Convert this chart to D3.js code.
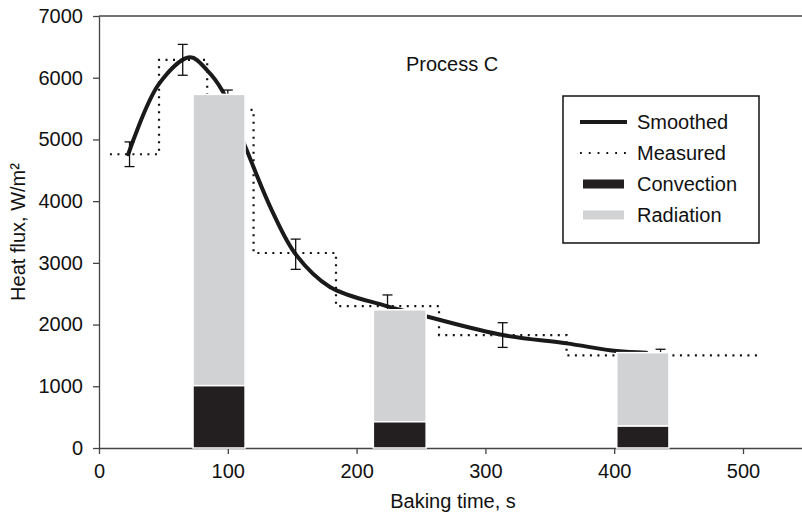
<!DOCTYPE html>
<html>
<head>
<meta charset="utf-8">
<script src="https://cdn.jsdelivr.net/npm/d3@7"></script>
<style>
  body { margin: 0; background: #fff; }
  svg text { font-family: "Liberation Sans", Arial, sans-serif; fill: #111; }
</style>
</head>
<body>
<div id="graph"></div>
<script>
// smoothed heat flux curve (time s, W/m2)
var smoothT = [22.7, 46.6, 70.7, 84, 96, 114, 134, 153, 179.3, 223.4, 254.4, 313.4, 363, 402, 425];
var smoothQ = [4760, 5900, 6330, 6120, 5780, 4860, 3860, 3130, 2610, 2300, 2130, 1830, 1695, 1570, 1545];

// measured step values: step edges and level of each step
var stepEdges = [8.5, 46.6, 84, 120, 184, 264, 363, 511];
var stepLevels = [4760, 6290, 5480, 3160, 2300, 1830, 1500];

// error bars
var errT = [23.7, 65, 100, 152.7, 224, 313.4, 436];
var errMean = [4760, 6290, 5480, 3140, 2300, 1830, 1500];
var errDev = [200, 250, 320, 245, 180, 200, 100];

// stacked bars
var barStart = [73, 213, 402];
var barEnd = [113.4, 254, 442.5];
var convection = [1010, 425, 355];
var radiation = [4720, 1815, 1190];

var xTicks = [0, 100, 200, 300, 400, 500];
var yTicks = [0, 1000, 2000, 3000, 4000, 5000, 6000, 7000];

var W = 802, H = 513;
var margin = { top: 16, left: 99 },
    plotH = 432;

var svg = d3.select("#graph").append("svg")
    .attr("width", W)
    .attr("height", H);

var x = d3.scaleLinear().domain([0, 550]).range([margin.left, margin.left + 1.288 * 550]);
var y = d3.scaleLinear().domain([0, 7000]).range([margin.top + plotH, margin.top]);

// frame: top line
svg.append("line")
    .attr("x1", x(0)).attr("x2", W)
    .attr("y1", y(7000)).attr("y2", y(7000))
    .attr("stroke", "#444").attr("stroke-width", 1.3);

// axes
var yAxis = svg.append("g")
    .attr("transform", "translate(" + x(0) + ",0)")
    .call(d3.axisLeft(y).tickValues(yTicks).tickSize(6).tickSizeOuter(0).tickPadding(10).tickFormat(d3.format("d")));
var xAxis = svg.append("g")
    .attr("transform", "translate(0," + y(0) + ")")
    .call(d3.axisBottom(x).tickValues(xTicks).tickSize(6).tickSizeOuter(0).tickPadding(10).tickFormat(d3.format("d")));

[xAxis, yAxis].forEach(function (g) {
    g.selectAll("path, line").attr("stroke", "#444").attr("stroke-width", 1.3);
    g.selectAll("text").style("font-size", "20px").attr("fill", "#111");
});

// measured (dotted steps)
var stepPts = [];
stepLevels.forEach(function (v, i) {
    stepPts.push([stepEdges[i], v]);
    stepPts.push([stepEdges[i + 1], v]);
});
svg.append("path")
    .datum(stepPts)
    .attr("fill", "none")
    .attr("stroke", "#111")
    .attr("stroke-width", 2.2)
    .attr("stroke-dasharray", "2,5.5")
    .attr("d", d3.line().x(function (d) { return x(d[0]); }).y(function (d) { return y(d[1]); }));

// smoothed curve
var smoothPts = smoothT.map(function (t, i) { return [t, smoothQ[i]]; });
svg.append("path")
    .datum(smoothPts)
    .attr("fill", "none")
    .attr("stroke", "#1a1a1a")
    .attr("stroke-width", 4)
    .attr("stroke-linecap", "round")
    .attr("d", d3.line().curve(d3.curveCatmullRom.alpha(0.5))
        .x(function (d) { return x(d[0]); }).y(function (d) { return y(d[1]); }));

// error bars
var eb = svg.append("g").attr("stroke", "#111").attr("stroke-width", 1.3);
errT.forEach(function (t, i) {
    var lo = y(errMean[i] - errDev[i]), hi = y(errMean[i] + errDev[i]), cx = x(t);
    eb.append("line").attr("x1", cx).attr("x2", cx).attr("y1", lo).attr("y2", hi);
    eb.append("line").attr("x1", cx - 5).attr("x2", cx + 5).attr("y1", lo).attr("y2", lo);
    eb.append("line").attr("x1", cx - 5).attr("x2", cx + 5).attr("y1", hi).attr("y2", hi);
});

// stacked bars
var bars = svg.append("g").attr("stroke", "#fff").attr("stroke-width", 1.5);
barStart.forEach(function (s, i) {
    var total = convection[i] + radiation[i];
    bars.append("rect")
        .attr("x", x(s)).attr("width", x(barEnd[i]) - x(s))
        .attr("y", y(total)).attr("height", y(convection[i]) - y(total))
        .attr("fill", "#d1d2d4");
    bars.append("rect")
        .attr("x", x(s)).attr("width", x(barEnd[i]) - x(s))
        .attr("y", y(convection[i])).attr("height", y(0) - y(convection[i]))
        .attr("fill", "#231f20");
});

// title inside plot
svg.append("text").attr("x", 406).attr("y", 71).text("Process C").style("font-size", "20px");

// axis titles
svg.append("text")
    .attr("x", 453).attr("y", 508)
    .attr("text-anchor", "middle")
    .style("font-size", "20px")
    .text("Baking time, s");
svg.append("text")
    .attr("transform", "translate(25," + (y(3500)) + ") rotate(-90)")
    .attr("text-anchor", "middle")
    .style("font-size", "20px")
    .text("Heat flux, W/m²");

// legend
var lg = svg.append("g");
lg.append("rect")
    .attr("x", 563).attr("y", 96).attr("width", 196).attr("height", 147)
    .attr("fill", "#fff").attr("stroke", "#111").attr("stroke-width", 1.5);
var legendNames = ["Smoothed", "Measured", "Convection", "Radiation"];
legendNames.forEach(function (name, i) {
    var ly = 122 + i * 31;
    if (i == 0) {
        lg.append("line").attr("x1", 580).attr("x2", 627).attr("y1", ly).attr("y2", ly)
            .attr("stroke", "#1a1a1a").attr("stroke-width", 4);
    } else if (i == 1) {
        lg.append("line").attr("x1", 580).attr("x2", 627).attr("y1", ly).attr("y2", ly)
            .attr("stroke", "#111").attr("stroke-width", 1.8).attr("stroke-dasharray", "1.8,7");
    } else {
        lg.append("rect").attr("x", 583).attr("y", ly - 4.5).attr("width", 41).attr("height", 9)
            .attr("fill", i == 2 ? "#231f20" : "#d1d2d4");
    }
    lg.append("text").attr("x", 637).attr("y", ly + 7).style("font-size", "20px").text(name);
});
</script>
</body>
</html>
